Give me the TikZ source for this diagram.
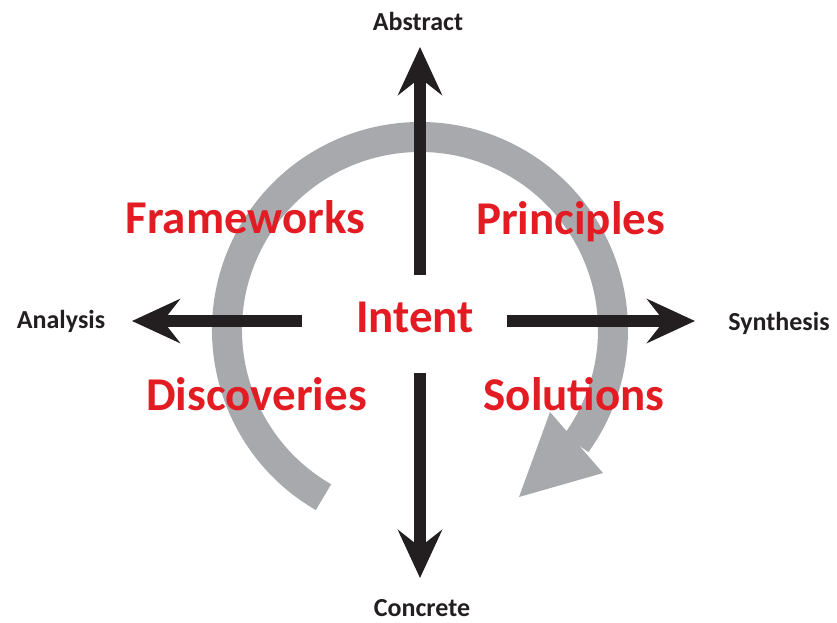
\documentclass[tikz,border=0pt]{standalone}
\usepackage{fontspec}
\setmainfont{Carlito}
\usetikzlibrary{arrows.meta}
\definecolor{ringgray}{HTML}{A7A9AC}
\definecolor{labelred}{HTML}{E31B23}
\definecolor{axisblack}{HTML}{231F20}

\begin{document}
\begin{tikzpicture}[x=1pt, y=1pt,
    axis/.style={line width=12pt, draw=axisblack, -{Stealth[length=48pt, width=44pt, inset=17pt]}},
    quad/.style={text=labelred, font=\fontsize{47}{56}\selectfont\bfseries, anchor=base, inner sep=0pt},
    pole/.style={text=axisblack, font=\fontsize{26}{31}\selectfont\bfseries, anchor=base, inner sep=0pt}]
    \useasboundingbox (-420,-292) rectangle (417,330);
    % cycle ring
    \draw[ringgray, line width=30pt] (240:193) arc (240:-36:193);
    \fill[ringgray] (130,-82) -- (99,-167) -- (183,-143) -- cycle;
    % axes
    \coordinate (up0) at (0,55);
    \coordinate (up1) at (0,283);
    \coordinate (dn0) at (0,-43);
    \coordinate (dn1) at (0,-248);
    \coordinate (lt0) at (-118,9);
    \coordinate (lt1) at (-288,9);
    \coordinate (rt0) at (87,9);
    \coordinate (rt1) at (275,9);
    \draw[axis] (up0) -- (up1);
    \draw[axis] (dn0) -- (dn1);
    \draw[axis] (lt0) -- (lt1);
    \draw[axis] (rt0) -- (rt1);
    \node[pole] (abstract) at (-2,300) {Abstract};
    \node[pole] (concrete) at (2,-286) {Concrete};
    \node[pole] (analysis) at (-359,2) {Analysis};
    \node[pole] (synthesis) at (359,0) {Synthesis};
    % quadrants
    \node[quad] (intent) at (-5,-2) {Intent};
    \node[quad] (frameworks) at (-174.5,97) {Frameworks};
    \node[quad] (principles) at (150.5,96) {Principles};
    \node[quad] (discoveries) at (-163.5,-80) {Discoveries};
    \node[quad] (solutions) at (154,-80) {Solutions};
\end{tikzpicture}
\end{document}
